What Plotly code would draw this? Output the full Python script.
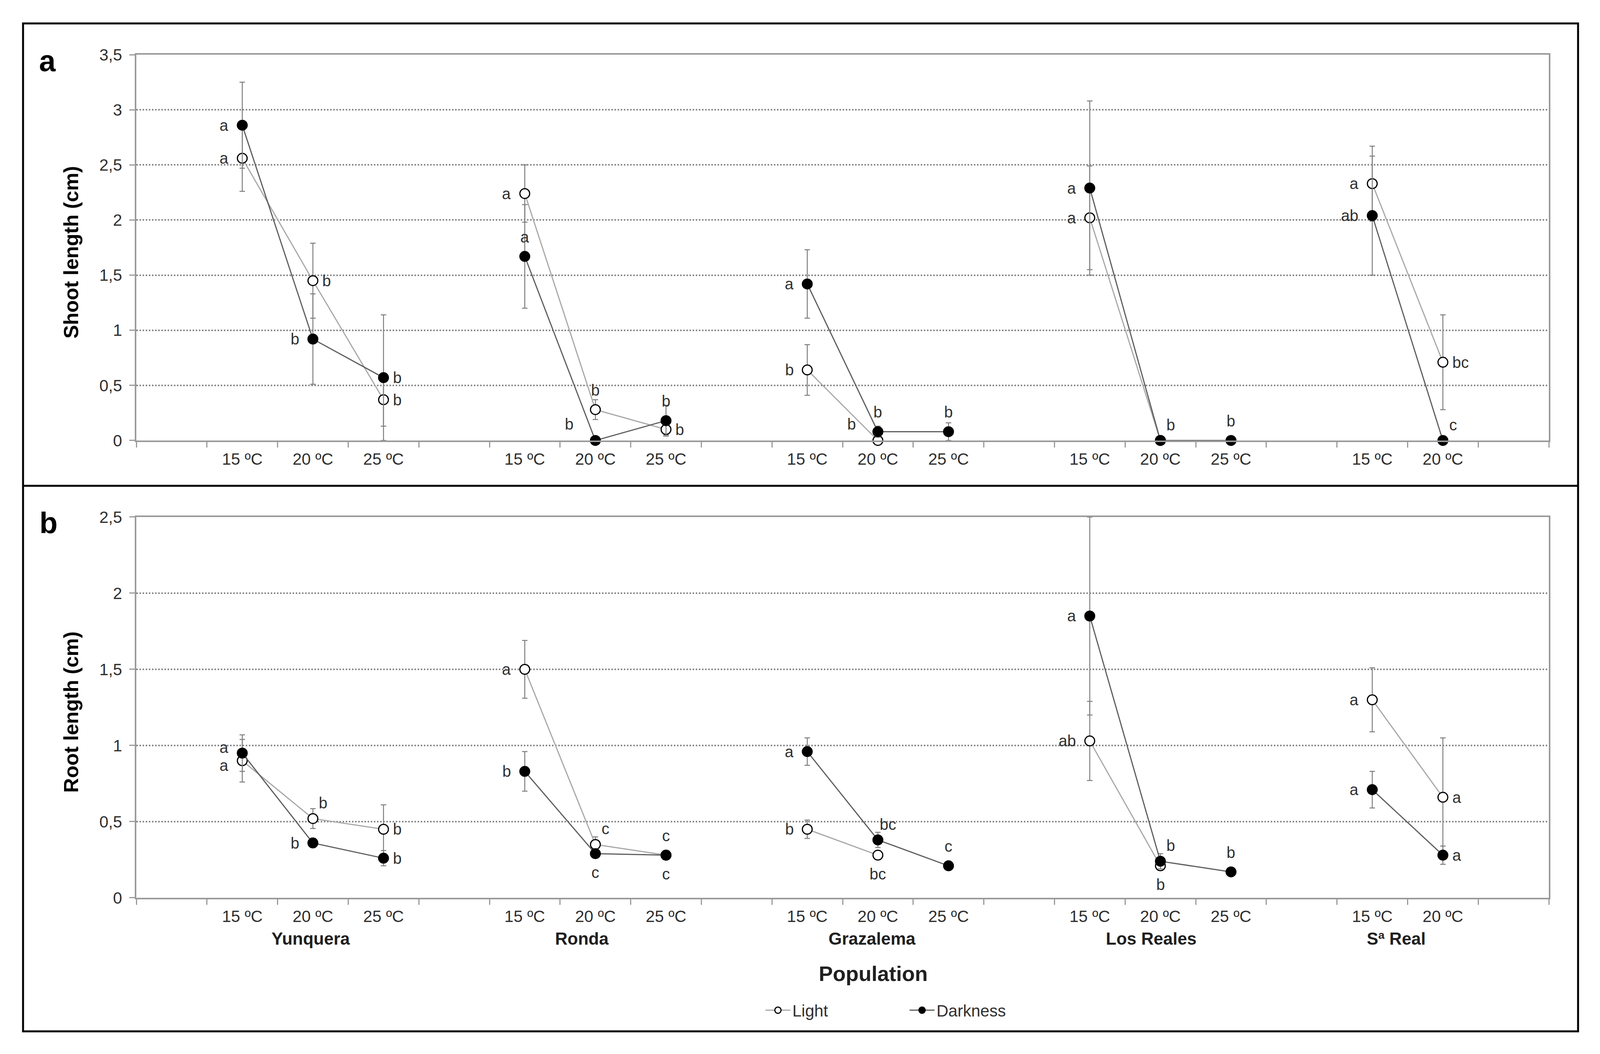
import plotly.graph_objects as go

# ---------------- data ----------------
categories = ["", "15 ºC", "20 ºC", "25 ºC", "", "15 ºC", "20 ºC", "25 ºC", "",
              "15 ºC", "20 ºC", "25 ºC", "", "15 ºC", "20 ºC", "25 ºC", "",
              "15 ºC", "20 ºC", ""]
populations = ["Yunquera", "Ronda", "Grazalema", "Los Reales", "Sª Real"]
N = None

shoot_light = [N, 2.56, 1.45, 0.37, N, 2.24, 0.28, 0.10, N, 0.64, 0.00, N, N, 2.02, 0.00, N, N, 2.33, 0.71, N]
shoot_light_err = [N, 0.30, 0.34, 0.24, N, 0.26, 0.09, 0.05, N, 0.23, 0.00, N, N, 0.47, 0.00, N, N, 0.34, 0.43, N]
shoot_dark = [N, 2.86, 0.92, 0.57, N, 1.67, 0.00, 0.18, N, 1.42, 0.08, 0.08, N, 2.29, 0.00, 0.00, N, 2.04, 0.00, N]
shoot_dark_err = [N, 0.39, 0.41, 0.57, N, 0.47, 0.00, 0.14, N, 0.31, 0.05, 0.08, N, 0.79, 0.00, 0.00, N, 0.54, 0.00, N]

root_light = [N, 0.90, 0.52, 0.45, N, 1.50, 0.35, 0.28, N, 0.45, 0.28, N, N, 1.03, 0.21, N, N, 1.30, 0.66, N]
root_light_err = [N, 0.14, 0.065, 0.16, N, 0.19, 0.05, 0.02, N, 0.06, 0.03, N, N, 0.26, 0.03, N, N, 0.21, 0.39, N]
root_dark = [N, 0.95, 0.36, 0.26, N, 0.83, 0.29, 0.28, N, 0.96, 0.38, 0.21, N, 1.85, 0.24, 0.17, N, 0.71, 0.28, N]
root_dark_err = [N, 0.12, 0.03, 0.05, N, 0.13, 0.03, 0.02, N, 0.09, 0.05, 0.02, N, 0.65, 0.05, 0.02, N, 0.12, 0.06, N]

# significance letters: (text, placement) per slot
shoot_light_lab = [N, ("a", "L"), ("b", "R"), ("b", "R"), N, ("a", "L"), ("b", "A"), ("b", "R"), N,
                   ("b", "L"), ("b", "AL"), N, N, ("a", "L"), N, N, N, ("a", "L"), ("bc", "R"), N]
shoot_dark_lab = [N, ("a", "L"), ("b", "L"), ("b", "R"), N, ("a", "A"), ("b", "AL"), ("b", "A"), N,
                  ("a", "L"), ("b", "A"), ("b", "A"), N, ("a", "L"), ("b", "AR"), ("b", "A"), N,
                  ("ab", "L"), ("c", "AR"), N]
root_light_lab = [N, ("a", "LD"), ("b", "AR"), ("b", "R"), N, ("a", "L"), ("c", "AR"), ("c", "A"), N,
                  ("b", "L"), ("bc", "B"), N, N, ("ab", "L"), ("b", "B"), N, N, ("a", "L"), ("a", "R"), N]
root_dark_lab = [N, ("a", "LU"), ("b", "L"), ("b", "R"), N, ("b", "L"), ("c", "B"), ("c", "B"), N,
                 ("a", "L"), ("bc", "AR"), ("c", "A"), N, ("a", "L"), ("b", "AR"), ("b", "A"), N,
                 ("a", "L"), ("a", "R"), N]

shoot_ticks = [0, 0.5, 1, 1.5, 2, 2.5, 3, 3.5]
root_ticks = [0, 0.5, 1, 1.5, 2, 2.5]

# ---------------- styling ----------------
FONT = "Arial, Liberation Sans, sans-serif"
AXC = "#9a9a9a"
TXT = "#303030"
x = list(range(len(categories)))

# placement code -> (xanchor, xshift, yshift)
PLACE = {
    "L": ("right", -33, 0),
    "LU": ("right", -33, 14),
    "LD": ("right", -33, -12),
    "R": ("left", 22, 0),
    "A": ("center", 0, 50),
    "B": ("center", 0, -48),
    "AR": ("center", 26, 40),
    "AL": ("center", -67, 42),
}

fig = go.Figure()

def add_series(y, err, name, fill, linecolor, xa, ya, show):
    fig.add_trace(go.Scatter(
        x=x, y=y, mode="lines+markers", name=name, xaxis=xa, yaxis=ya,
        showlegend=show, cliponaxis=False, connectgaps=False,
        line=dict(color=linecolor, width=3),
        marker=dict(symbol="circle", size=25, color=fill, line=dict(color="black", width=3)),
        error_y=dict(type="data", array=[e if e is not None else 0 for e in err],
                     symmetric=True, color="#7f7f7f", thickness=2.5, width=7),
    ))

add_series(shoot_light, shoot_light_err, "Light", "white", "#a8a8a8", "x", "y", True)
add_series(shoot_dark, shoot_dark_err, "Darkness", "black", "#5e5e5e", "x", "y", True)
add_series(root_light, root_light_err, "Light", "white", "#a8a8a8", "x2", "y2", False)
add_series(root_dark, root_dark_err, "Darkness", "black", "#5e5e5e", "x2", "y2", False)

def add_labels(y, labs, xr, yr):
    for i, (v, lab) in enumerate(zip(y, labs)):
        if lab is None or v is None:
            continue
        txt, code = lab
        xa, xs, ys = PLACE[code]
        fig.add_annotation(x=i, y=v, xref=xr, yref=yr, text=txt, showarrow=False,
                           xanchor=xa, yanchor="middle", xshift=xs, yshift=ys,
                           font=dict(family=FONT, size=40, color=TXT))

add_labels(shoot_light, shoot_light_lab, "x", "y")
add_labels(shoot_dark, shoot_dark_lab, "x", "y")
add_labels(root_light, root_light_lab, "x2", "y2")
add_labels(root_dark, root_dark_lab, "x2", "y2")

tickvals = [i for i, c in enumerate(categories) if c]
ticktext = [c for c in categories if c]
bounds = [i - 0.5 for i in range(len(categories) + 1)]

xcommon = dict(range=[-0.5, len(categories) - 0.5], tickmode="array", tickvals=tickvals,
               ticktext=ticktext, ticks="", showgrid=False, zeroline=False,
               showline=True, linecolor=AXC, linewidth=4, mirror=True,
               tickfont=dict(family=FONT, size=42, color=TXT), ticklabelstandoff=8,
               minor=dict(tickmode="array", tickvals=bounds, ticks="outside", ticklen=14,
                          tickwidth=3, tickcolor=AXC, showgrid=False))

def ycommon(ticks, dom):
    return dict(domain=dom, range=[0, ticks[-1]], tickmode="array", tickvals=ticks,
                ticktext=[f"{t:g}".replace(".", ",") for t in ticks],
                ticks="outside", ticklen=14, tickwidth=3, tickcolor=AXC,
                showgrid=True, gridcolor="#8a8a8a", griddash="dot", gridwidth=4,
                zeroline=False, showline=True, linecolor=AXC, linewidth=4, mirror=True,
                tickfont=dict(family=FONT, size=42, color=TXT), ticklabelstandoff=10)

fig.update_layout(
    width=4096, height=2699,
    margin=dict(l=349, r=131, t=140, b=400),
    paper_bgcolor="white", plot_bgcolor="white",
    xaxis=dict(anchor="y", **xcommon),
    yaxis=ycommon(shoot_ticks, [0.5424, 1.0]),
    xaxis2=dict(anchor="y2", **xcommon),
    yaxis2=ycommon(root_ticks, [0.0, 0.4516]),
    legend=dict(orientation="h", x=0.444, xanchor="left", y=-0.1334, yanchor="middle",
                font=dict(family=FONT, size=42, color=TXT), entrywidth=290, itemwidth=64,
                bgcolor="rgba(0,0,0,0)"),
    font=dict(family=FONT),
)

# outer frame and divider
fig.add_shape(type="rect", xref="paper", yref="paper", x0=-0.0802, x1=1.0207, y0=-0.1584, y1=1.0371,
              line=dict(color="black", width=5))
fig.add_shape(type="line", xref="paper", yref="paper", x0=-0.0802, x1=1.0207, y0=0.4887, y1=0.4887,
              line=dict(color="black", width=5))

def paper_text(xp, yp, text, size, angle=0, color="black"):
    fig.add_annotation(x=xp, y=yp, xref="paper", yref="paper", text=text, showarrow=False,
                       xanchor="center", yanchor="middle", textangle=angle,
                       font=dict(family=FONT, size=size, color=color))

# panel letters
paper_text(-0.0628, 0.9930, "<b>a</b>", 76)
paper_text(-0.0621, 0.4450, "<b>b</b>", 76)

# y titles
paper_text(-0.0462, 0.7656, "<b>Shoot length (cm)</b>", 52, -90)
paper_text(-0.0462, 0.2205, "<b>Root length (cm)</b>", 52, -90)

# population group labels
pop_x = [1.97, 5.81, 9.92, 13.87, 17.34]
for p, px in zip(populations, pop_x):
    fig.add_annotation(x=px, y=-0.0482, xref="x2", yref="paper", text=f"<b>{p}</b>", showarrow=False,
                       xanchor="center", yanchor="middle",
                       font=dict(family=FONT, size=44, color="#202020"))
paper_text(0.5218, -0.0899, "<b>Population</b>", 54, 0, "#202020")

fig.write_html("out.html", config={"displayModeBar": False},
               post_script="document.body.style.margin='0px';document.body.style.overflow='hidden';")
